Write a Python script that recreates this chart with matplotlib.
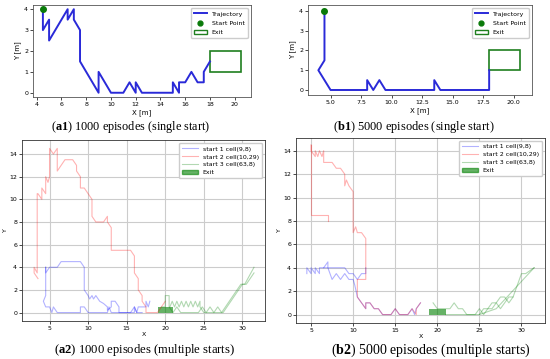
import matplotlib.pyplot as plt
from matplotlib.lines import Line2D
from matplotlib.patches import Rectangle, Patch

plt.rcParams['mathtext.fontset'] = 'custom'
plt.rcParams['mathtext.rm'] = 'Liberation Serif'
plt.rcParams['mathtext.bf'] = 'Liberation Serif:bold'

# ---- data: single start, 1000 episodes (a1)
a1_x = [4.5, 4.5, 5.0, 5.0, 6.5, 6.5, 7.0, 7.0, 7.5, 7.5, 9.0, 9.0, 10.0, 11.0, 11.5,
        12.0, 12.0, 12.5, 15.0, 15.0, 15.5, 15.5, 16.0, 16.5, 17.0, 17.5, 17.5, 18.0]
a1_y = [4.0, 3.0, 3.5, 2.5, 4.0, 3.5, 4.0, 3.5, 3.0, 1.5, 0.0, 1.0, 0.0, 0.0, 0.5,
        0.0, 0.5, 0.0, 0.0, 0.5, 0.0, 0.5, 0.5, 1.0, 0.5, 0.5, 1.0, 1.5]

# ---- data: single start, 5000 episodes (b1)
b1_x = [4.5, 4.5, 4.0, 5.0, 8.0, 8.0, 8.5, 9.0, 9.5, 13.5, 13.5, 14.0, 18.0, 18.0]
b1_y = [4.0, 1.5, 1.0, 0.0, 0.0, 0.5, 0.0, 0.5, 0.0, 0.0, 0.5, 0.0, 0.0, 1.0]

start_pt = (4.5, 4.0)
exit_single = (18.0, 1.0, 2.5, 1.0)   # x, y, w, h
exit_multi = (19.0, 0.0, 2.0, 0.5)

# ---- data: multiple starts, 1000 episodes (a2)
a2_blue = [
    ([4.5, 4.5, 5.0, 6.0, 6.5, 9.0, 9.5, 9.5, 10.0, 10.2, 10.5, 10.7, 11.0, 11.5, 12.0,
      12.5, 12.5, 13.0, 13.0, 13.5, 14.0, 14.0, 16.0, 16.0, 16.3, 16.5, 17.0, 17.5, 17.5,
      17.8, 18.0],
     [4.0, 3.5, 4.0, 4.0, 4.5, 4.5, 4.0, 2.0, 1.5, 1.2, 1.5, 1.2, 1.5, 1.0, 0.8,
      0.5, 0.2, 0.5, 1.0, 1.0, 0.5, 0.0, 0.0, 0.5, 0.0, 0.5, 0.5, 0.5, 1.0,
      0.5, 1.0]),
    ([4.5, 4.5, 4.2, 4.5, 5.0, 5.3, 5.5, 6.0, 9.0, 9.0, 9.5, 10.0, 12.5, 12.7, 13.0,
      15.5, 16.0, 16.3, 17.0],
     [4.0, 1.5, 1.0, 0.5, 0.5, 0.0, 0.5, 0.0, 0.0, 0.5, 0.5, 0.0, 0.0, 0.5, 0.0,
      0.0, 0.5, 0.0, 0.0]),
]
a2_red = [
    ([3.5, 3.0, 3.0, 3.4, 3.4, 3.5, 4.0, 4.0, 4.5, 4.5, 4.8, 5.0, 5.0, 5.5, 6.0, 6.0,
      6.5, 7.0, 8.0, 8.5, 8.5, 9.0, 9.0, 9.5, 10.0, 10.5, 10.5, 11.0, 12.0, 12.5,
      12.5, 13.0, 13.0, 15.5, 16.0, 16.0, 16.5, 16.5, 17.0, 17.0, 17.5, 17.5, 19.0,
      20.0],
     [3.0, 3.5, 4.0, 3.5, 10.5, 10.5, 10.0, 11.0, 10.5, 12.0, 11.5, 12.0, 14.5, 14.0,
      14.5, 12.5, 13.0, 13.5, 13.5, 13.0, 12.5, 12.0, 11.0, 11.0, 10.5, 10.0, 8.5,
      8.0, 8.0, 8.5, 8.0, 7.5, 5.5, 5.5, 5.0, 3.5, 3.0, 2.0, 1.5, 1.0, 0.5, 0.0, 0.0,
      1.0]),
]
a2_green = [
    ([31.5, 30.3, 29.8, 27.3, 26.8, 26.3, 25.8, 25.3, 24.8, 24.3, 22.0, 21.5, 21.0,
      20.5, 20.5, 20.0, 20.0, 19.5],
     [4.0, 2.5, 2.5, 0.0, 0.5, 0.0, 0.5, 0.0, 0.5, 0.0, 0.0, 0.5, 0.0,
      0.5, 1.5, 1.5, 0.5, 0.5]),
    ([31.5, 30.5, 30.0, 27.5, 25.0, 24.5, 24.5, 24.2, 23.9, 23.6, 23.3, 23.0, 22.7,
      22.4, 22.1, 21.8, 21.5, 21.2, 20.9, 20.6],
     [3.5, 2.5, 2.5, 0.0, 0.0, 0.5, 1.0, 0.5, 1.0, 0.5, 1.0, 0.5, 1.0,
      0.5, 1.0, 0.5, 1.0, 0.5, 1.0, 0.5]),
]

# ---- data: multiple starts, 5000 episodes (b2)
b2_blue = [
    ([4.5, 4.5, 5.0, 5.0, 5.5, 5.5, 6.0, 6.0, 6.5, 7.0, 7.0, 9.0, 9.5, 10.0, 10.5,
      11.0, 11.5, 11.5],
     [3.5, 4.0, 3.5, 4.0, 3.5, 4.0, 3.5, 4.0, 4.0, 4.5, 4.0, 4.0, 3.5, 3.5, 3.0,
      3.5, 3.5, 4.0]),
    ([6.5, 7.0, 7.5, 8.0, 8.5, 9.0, 9.5, 10.0, 10.2, 10.5, 11.0, 11.5, 11.5, 12.0,
      12.5, 13.0, 13.5, 14.5, 15.0, 15.5, 16.5, 17.0, 17.3, 17.5, 18.0],
     [4.0, 4.0, 3.0, 3.5, 3.0, 3.5, 3.0, 3.0, 2.5, 1.5, 1.0, 0.5, 1.0, 1.0,
      0.5, 0.5, 0.0, 0.0, 0.5, 0.0, 0.0, 0.5, 0.0, 0.5, 1.0]),
]
b2_red = [
    ([5.0, 5.0, 7.0, 7.0], [14.5, 8.5, 8.5, 8.0]),
    ([5.0, 5.0, 5.5, 5.5, 5.8, 6.0, 6.3, 6.5, 6.5, 7.5, 8.0, 8.5, 9.0, 9.0, 9.2, 9.5,
      10.0, 10.0, 10.3, 10.5, 11.0, 11.5, 11.5, 11.0, 10.5, 10.5, 11.0, 11.5, 11.5,
      12.0, 12.5, 13.0, 13.5, 14.5, 15.0, 15.5, 16.5, 17.0, 17.5, 17.5, 18.0],
     [14.5, 14.0, 13.5, 14.0, 13.5, 14.0, 13.5, 14.0, 13.0, 13.0, 12.5, 12.5, 12.0,
      11.0, 11.5, 11.0, 10.5, 7.0, 7.5, 7.0, 7.0, 6.5, 3.0, 3.0, 3.0, 1.5, 1.0, 0.5,
      1.0, 1.0, 0.5, 0.5, 0.0, 0.0, 0.5, 0.0, 0.0, 0.5, 0.0, 0.5, 1.0]),
]
b2_green = [
    ([31.5, 27.0, 25.0, 21.0],
     [4.0, 0.5, 0.0, 0.0]),
    ([31.5, 30.5, 30.0, 29.0, 28.5, 28.0, 27.5, 27.0, 26.5, 26.0, 25.5, 25.0, 24.5,
      23.5, 23.0, 22.5, 22.0, 21.5, 21.0, 20.5, 20.0, 19.5],
     [4.0, 3.5, 3.5, 1.5, 1.5, 1.0, 0.5, 1.0, 0.5, 0.5, 0.0, 0.5, 0.0,
      0.0, 0.5, 0.5, 1.0, 0.5, 0.5, 0.5, 0.5, 1.0]),
    ([29.0, 28.5, 28.0, 27.5, 27.0, 26.5, 26.0, 25.5, 25.0],
     [1.5, 1.0, 1.5, 1.5, 1.0, 1.0, 0.5, 0.5, 0.0]),
]
legend_multi = ['start 1 cell(9,8)', 'start 2 cell(10,29)', 'start 3 cell(63,8)', 'Exit']

fig = plt.figure(figsize=(5.5, 3.59), dpi=100)


def single_plot(rect, xs, ys, xticks, xlim, ylim, tickfmt):
    ax = fig.add_axes(rect)
    ax.plot(xs, ys, color='#2a2ad8', lw=1.4)
    ax.plot(*start_pt, 'o', color='#0a7a0a', ms=4)
    ex, ey, ew, eh = exit_single
    ax.add_patch(Rectangle((ex, ey), ew, eh, fill=False, edgecolor='#1f7f1f', lw=1.2))
    ax.set_xlim(xlim)
    ax.set_ylim(ylim)
    ax.set_xticks(xticks)
    ax.set_xticklabels([tickfmt % t for t in xticks])
    ax.set_yticks([0, 1, 2, 3, 4])
    ax.tick_params(labelsize=4.5, length=2, width=0.5, pad=1.5)
    ax.set_xlabel('X [m]', fontsize=5, labelpad=1.5)
    ax.set_ylabel('Y [m]', fontsize=5, labelpad=2)
    for s in ax.spines.values():
        s.set_color('#555555')
        s.set_linewidth(0.6)
    handles = [Line2D([], [], color='#2a2ad8', lw=1.4),
               Line2D([], [], ls='', marker='o', color='#0a7a0a', ms=3.5),
               Rectangle((0, 0), 1, 1, fill=False, edgecolor='#1f7f1f', lw=1)]
    ax.legend(handles, ['Trajectory', 'Start Point', 'Exit'], loc='upper right',
              fontsize=4.5, handlelength=2.0, borderpad=0.5, labelspacing=0.6,
              framealpha=1, edgecolor='#cccccc', fancybox=True)
    return ax


def multi_plot(rect, blues, reds, greens, xlim, ylim):
    ax = fig.add_axes(rect)
    ax.grid(True, color='#cccccc', lw=0.8)
    ax.set_axisbelow(True)
    for xs, ys in blues:
        ax.plot(xs, ys, color='blue', alpha=0.3, lw=0.8)
    for xs, ys in reds:
        ax.plot(xs, ys, color='red', alpha=0.3, lw=0.8)
    for xs, ys in greens:
        ax.plot(xs, ys, color='green', alpha=0.3, lw=0.8)
    ex, ey, ew, eh = exit_multi
    ax.add_patch(Rectangle((ex, ey), ew, eh, color='green', alpha=0.6, lw=0))
    ax.set_xlim(xlim)
    ax.set_ylim(ylim)
    ax.set_xticks([5, 10, 15, 20, 25, 30])
    ax.set_yticks([0, 2, 4, 6, 8, 10, 12, 14])
    ax.tick_params(labelsize=4.5, length=2, width=0.5, pad=1.5)
    ax.set_xlabel('X', fontsize=4.5, labelpad=1)
    ax.set_ylabel('Y', fontsize=4.5, labelpad=1)
    for s in ax.spines.values():
        s.set_color('#333333')
        s.set_linewidth(0.6)
    handles = [Line2D([], [], color='blue', alpha=0.3, lw=0.8),
               Line2D([], [], color='red', alpha=0.3, lw=0.8),
               Line2D([], [], color='green', alpha=0.3, lw=0.8),
               Patch(color='green', alpha=0.6)]
    ax.legend(handles, legend_multi, loc='upper right', fontsize=4.5,
              handlelength=2.5, borderpad=0.5, labelspacing=0.4,
              framealpha=1, edgecolor='#cccccc')
    return ax


single_plot([0.060, 0.730, 0.396, 0.256], a1_x, a1_y,
            [4, 6, 8, 10, 12, 14, 16, 18, 20], (3.7, 21.3), (-0.2, 4.2), '%d')
single_plot([0.560, 0.735, 0.407, 0.251], b1_x, b1_y,
            [5.0, 7.5, 10.0, 12.5, 15.0, 17.5, 20.0], (3.15, 21.5), (-0.26, 4.3), '%.1f')
multi_plot([0.040, 0.106, 0.442, 0.504], a2_blue, a2_red, a2_green,
           (1.43, 32.94), (-0.74, 15.24))
multi_plot([0.538, 0.100, 0.453, 0.516], b2_blue, b2_red, b2_green,
           (3.2, 32.8), (-0.73, 15.1))

cap = dict(ha='center', va='center', family='Liberation Serif')
fig.text(0.238, 0.646, r'($\mathbf{a1}$) 1000 episodes (single start)', fontsize=8.8, **cap)
fig.text(0.752, 0.646, r'($\mathbf{b1}$) 5000 episodes (single start)', fontsize=8.9, **cap)
fig.text(0.262, 0.025, r'($\mathbf{a2}$) 1000 episodes (multiple starts)', fontsize=9.1, **cap)
fig.text(0.783, 0.025, r'($\mathbf{b2}$) 5000 episodes (multiple starts)', fontsize=10.0, **cap)

fig.savefig('out.png', dpi=100)
